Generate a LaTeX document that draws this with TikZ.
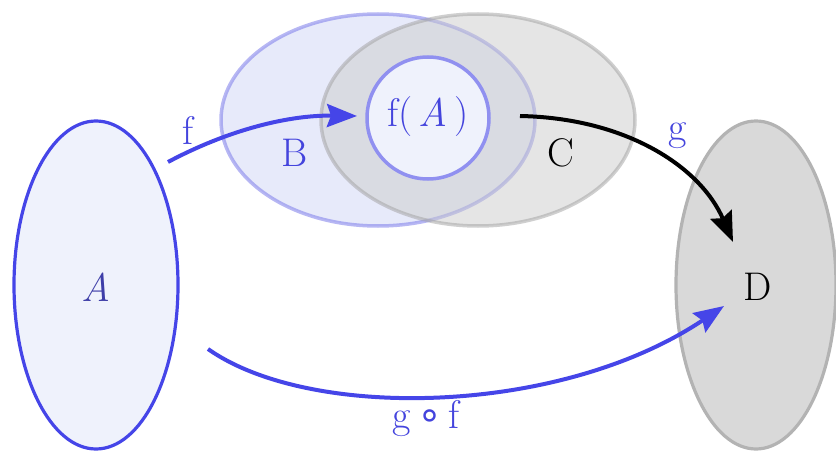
\documentclass[tikz,border=0pt]{standalone}
\usepackage{fontspec}
\newfontfamily\symfont{DejaVu Sans}
\usetikzlibrary{arrows.meta}
\definecolor{fblue}{HTML}{4545E8}
\definecolor{tblue}{HTML}{4444DD}
\definecolor{tdark}{HTML}{3E3EA8}
\definecolor{afill}{HTML}{EFF2FC}
\definecolor{bfill}{HTML}{D0D5F5}
\definecolor{bdraw}{HTML}{7C7CEA}
\definecolor{cfill}{HTML}{CCCCCC}
\definecolor{cdraw}{HTML}{A0A0A0}
\definecolor{fadraw}{HTML}{9090F0}
\definecolor{dfill}{HTML}{D9D9D9}
\definecolor{ddraw}{HTML}{B3B3B3}
\tikzset{
  lbl/.style={font=\fontsize{40}{44}\selectfont, inner sep=0pt},
  arr/.style={line width=4pt, -{Stealth[length=30pt, width=23pt, inset=4pt]}},
}
\begin{document}
\begin{tikzpicture}[x=1pt,y=1pt]
\useasboundingbox (0,0) rectangle (836,451);
% A
\draw[draw=fblue, fill=afill, line width=3.2pt] (96,166) ellipse [x radius=82, y radius=164];
\node[lbl, text=tdark] (A) at (96,164) {\textit{A}};
% B and C
\draw[fill=bfill, fill opacity=0.5, draw=bdraw, draw opacity=0.55, line width=3.5pt] (378,331) ellipse [x radius=157, y radius=106];
\draw[fill=cfill, fill opacity=0.5, draw=cdraw, draw opacity=0.5, line width=3.5pt] (478,331) ellipse [x radius=157, y radius=106];
% f(A)
\draw[draw=fadraw, fill=afill, line width=3.5pt] (428,333) circle [radius=61];
\node[lbl, text=tblue] (fA) at (428,334) {f(\,\textit{A}\,)};
% D
\draw[draw=ddraw, fill=dfill, line width=3.2pt] (756,166) ellipse [x radius=80, y radius=164];
\node[lbl] (D) at (758,164) {D};
% labels
\node[lbl, text=tblue] (B) at (295,298) {B};
\node[lbl] (C) at (561,298) {C};
\node[lbl, text=tblue] (lf) at (188,321) {f};
\node[lbl, text=tblue] (lg) at (678,315) {g};
\node[lbl, text=tblue] (lgf) at (426,32) {g\,{\symfont ∘}\,f};
% arrows
\coordinate (f0) at (168,289);
\coordinate (f1) at (357,335);
\coordinate (g0) at (520,335);
\coordinate (g1) at (733,209);
\coordinate (h0) at (208,102);
\coordinate (h1) at (724,145);
\draw[arr, fblue] (f0) .. controls (230,322) and (290,336) .. (f1);
\draw[arr, black] (g0) .. controls (625,333) and (700,285) .. (g1);
\draw[arr, fblue] (h0) .. controls (310,30) and (560,35) .. (h1);
\end{tikzpicture}
\end{document}
